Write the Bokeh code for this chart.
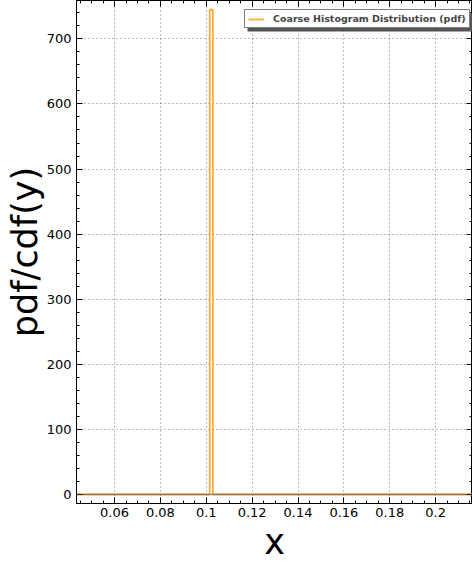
from bokeh.plotting import figure
from bokeh.models import FixedTicker, LinearAxis, Range1d, Span, Legend, LegendItem, BoxAnnotation
from bokeh.embed import file_html
from bokeh.resources import INLINE

# ---- data ----
bin_edges = [0.0434, 0.1015, 0.10284, 0.2161]
pdf_values = [0.0, 745.0, 0.0]
x_ticks = [0.06, 0.08, 0.10, 0.12, 0.14, 0.16, 0.18, 0.20]
x_tick_labels = ["0.06", "0.08", "0.1", "0.12", "0.14", "0.16", "0.18", "0.2"]
x_minor = [0.045, 0.05, 0.055, 0.065, 0.07, 0.075, 0.085, 0.09, 0.095, 0.105, 0.11, 0.115,
           0.125, 0.13, 0.135, 0.145, 0.15, 0.155, 0.165, 0.17, 0.175, 0.185, 0.19, 0.195,
           0.205, 0.21, 0.215]
y_ticks = [0, 100, 200, 300, 400, 500, 600, 700]
y_minor = [-20, 20, 40, 60, 80, 120, 140, 160, 180, 220, 240, 260, 280, 320, 340, 360, 380,
           420, 440, 460, 480, 520, 540, 560, 580, 620, 640, 660, 680, 720, 740]
series_label = "Coarse Histogram Distribution (pdf)"
x_label = "x"
y_label = "pdf/cdf(y)"
x_lim = (0.0434, 0.2161)
y_lim = (-14, 759)

# step outline of the histogram
xs = [bin_edges[0]]
ys = [0.0]
for i, v in enumerate(pdf_values):
    xs += [bin_edges[i], bin_edges[i + 1]]
    ys += [v, v]
xs.append(bin_edges[-1])
ys.append(0.0)

FONT = "DejaVu Sans"

p = figure(width=472, height=564, output_backend="svg", toolbar_location=None,
           x_range=Range1d(*x_lim), y_range=Range1d(*y_lim),
           min_border_left=76, min_border_right=0, min_border_top=0, min_border_bottom=0,
           x_axis_label=x_label, y_axis_label=y_label)
p.background_fill_color = "white"
p.border_fill_color = "white"
p.outline_line_color = "black"
p.outline_line_width = 1

r = p.line(xs, ys, line_color="#ffa531", line_width=1.7)
p.add_layout(Span(location=0, dimension="width", line_color="#444444", line_alpha=0.55, line_width=1.5))

xt = FixedTicker(ticks=x_ticks, minor_ticks=x_minor)
yt = FixedTicker(ticks=y_ticks, minor_ticks=y_minor)

for ax, t in ((p.xaxis[0], xt), (p.yaxis[0], yt)):
    ax.ticker = t
    ax.major_tick_in = 6
    ax.major_tick_out = 0
    ax.minor_tick_in = 3
    ax.minor_tick_out = 0
    ax.axis_line_color = "black"
    ax.major_label_text_font = FONT
    ax.major_label_text_font_size = "13px"
    ax.major_label_text_color = "black"
    ax.axis_label_text_font = FONT
    ax.axis_label_text_font_size = "35px"
    ax.axis_label_text_font_style = "normal"
    ax.axis_label_text_color = "black"
p.xaxis[0].major_label_overrides = {t: l for t, l in zip(x_ticks, x_tick_labels)}
p.xaxis[0].major_label_standoff = 4
p.xaxis[0].axis_label_standoff = 2
p.yaxis[0].major_label_standoff = 5
p.yaxis[0].axis_label_standoff = -1

for loc, t, ticks in (("above", xt, x_ticks), ("right", yt, y_ticks)):
    ax = LinearAxis(ticker=t, major_tick_in=6, major_tick_out=0, minor_tick_in=3, minor_tick_out=0,
                    major_label_standoff=0, axis_line_color="black",
                    major_label_overrides={k: "" for k in ticks})
    p.add_layout(ax, loc)

p.xgrid.ticker = xt
p.ygrid.ticker = yt
for g in (p.xgrid[0], p.ygrid[0]):
    g.grid_line_color = "black"
    g.grid_line_alpha = 0.55
    g.grid_line_dash = "1 3"
    g.grid_line_width = 1

# legend shadow (screen units relative to the frame)
LX, LY, LW, LH = 168, 475, 225, 18
p.add_layout(BoxAnnotation(left=LX + 3, right=LX + 3 + LW, bottom=LY - 3, top=LY - 3 + LH,
                           left_units="screen", right_units="screen",
                           bottom_units="screen", top_units="screen",
                           fill_color="#555555", fill_alpha=1.0, line_color=None))

legend = Legend(items=[LegendItem(label=series_label, renderers=[r])], location=(LX, LY))
legend.label_text_font = FONT
legend.label_text_font_size = "9.5px"
legend.label_text_font_style = "bold"
legend.border_line_color = "black"
legend.border_line_width = 1
legend.background_fill_alpha = 1.0
legend.padding = 3
legend.margin = 0
legend.glyph_width = 16
legend.glyph_height = 10
legend.label_height = 10
legend.label_standoff = 9
p.add_layout(legend)

open("out.html", "w").write(file_html(p, INLINE))
